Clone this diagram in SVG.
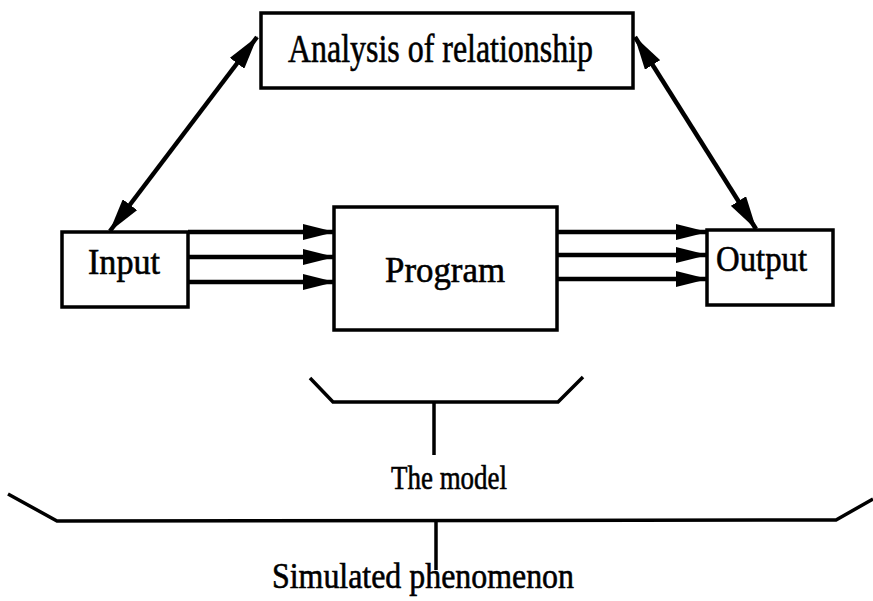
<svg xmlns="http://www.w3.org/2000/svg" width="873" height="601" viewBox="0 0 873 601">
<style>
.box{fill:#fff;stroke:#000;stroke-width:3.5}
.lbl{font-family:"Liberation Serif","Times New Roman",serif;fill:#000;stroke:#000;stroke-width:0.6}
.ln{stroke:#000;stroke-width:4.5;fill:none}
.thin{stroke:#000;stroke-width:3.5;fill:none;stroke-linejoin:miter}
</style>
<defs>
<marker id="ah" viewBox="0 0 32 16" refX="31" refY="8" markerWidth="32" markerHeight="16" markerUnits="userSpaceOnUse" orient="auto-start-reverse">
<path d="M0,0 L32,8 L0,16 Z" fill="#000"/>
</marker>
<marker id="dh" viewBox="0 0 34 18" refX="33" refY="9" markerWidth="34" markerHeight="18" markerUnits="userSpaceOnUse" orient="auto-start-reverse">
<path d="M0,0 L34,9 L0,18 Z" fill="#000"/>
</marker>
</defs>
<rect width="873" height="601" fill="#fff"/>
<g id="connectors">
<line class="ln" x1="110" y1="231" x2="257" y2="37" marker-start="url(#dh)" marker-end="url(#dh)"/>
<line class="ln" x1="635" y1="37" x2="756" y2="229" marker-start="url(#dh)" marker-end="url(#dh)"/>
<line class="ln" x1="188" y1="232" x2="334" y2="232" marker-end="url(#ah)"/>
<line class="ln" x1="188" y1="257" x2="334" y2="257" marker-end="url(#ah)"/>
<line class="ln" x1="188" y1="282" x2="334" y2="282" marker-end="url(#ah)"/>
<line class="ln" x1="557" y1="232" x2="707" y2="232" marker-end="url(#ah)"/>
<line class="ln" x1="557" y1="255" x2="707" y2="255" marker-end="url(#ah)"/>
<line class="ln" x1="557" y1="279" x2="707" y2="279" marker-end="url(#ah)"/>
</g>
<g id="analysis">
<rect class="box" x="261" y="13" width="372" height="75"/>
<text class="lbl" x="288" y="62" font-size="40" textLength="305" lengthAdjust="spacingAndGlyphs">Analysis of relationship</text>
</g>
<g id="input">
<rect class="box" x="62" y="232" width="126" height="75"/>
<text class="lbl" x="88" y="274" font-size="36" textLength="72" lengthAdjust="spacingAndGlyphs">Input</text>
</g>
<g id="program">
<rect class="box" x="334" y="207" width="223" height="123"/>
<text class="lbl" x="385" y="282" font-size="36" textLength="120" lengthAdjust="spacingAndGlyphs">Program</text>
</g>
<g id="output">
<rect class="box" x="707" y="230" width="126" height="75"/>
<text class="lbl" x="716" y="271" font-size="36" textLength="91" lengthAdjust="spacingAndGlyphs">Output</text>
</g>
<g id="model">
<polyline class="thin" points="310,378 333,402 558,402 583,377"/>
<line class="thin" x1="434" y1="402" x2="434" y2="455"/>
<text class="lbl" x="391" y="489" font-size="34" textLength="116" lengthAdjust="spacingAndGlyphs">The model</text>
</g>
<g id="phenomenon">
<polyline class="thin" points="8,494 57,521 836,520 873,499"/>
<line class="thin" x1="436" y1="520" x2="436" y2="570"/>
<text class="lbl" x="272" y="588" font-size="36" textLength="302" lengthAdjust="spacingAndGlyphs">Simulated phenomenon</text>
</g>
</svg>
